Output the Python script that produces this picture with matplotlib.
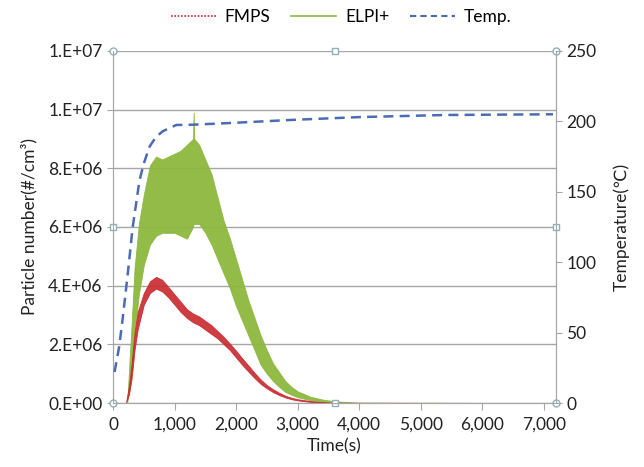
import numpy as np
import matplotlib
matplotlib.use("Agg")
import matplotlib.pyplot as plt
from matplotlib.ticker import FuncFormatter, MultipleLocator
from matplotlib.lines import Line2D

plt.rcParams['font.family'] = ['Lato', 'DejaVu Sans']

# ELPI+ noisy band (time s, lower/upper envelope in 1e6 #/cm3)
elpi_t = [230, 300, 350, 420, 500, 600, 700, 800, 900, 1000, 1100, 1200, 1300, 1310, 1320,
          1400, 1500, 1600, 1700, 1800, 1900, 2000, 2100, 2200, 2300, 2400, 2500, 2600,
          2700, 2800, 2900, 3000, 3200, 3400, 3600, 3800, 4000, 7200]
elpi_lo = [0, 1.0, 2.4, 3.7, 4.7, 5.4, 5.7, 5.8, 5.8, 5.8, 5.7, 5.6, 6.0, 6.1, 6.1,
           6.1, 5.8, 5.4, 4.9, 4.4, 3.9, 3.3, 2.8, 2.3, 1.8, 1.3, 1.0, 0.75,
           0.55, 0.38, 0.28, 0.2, 0.1, 0.05, 0.02, 0.01, 0, 0]
elpi_hi = [0, 2.6, 4.6, 6.1, 7.1, 8.1, 8.4, 8.3, 8.4, 8.5, 8.6, 8.8, 9.0, 9.9, 9.0,
           8.8, 8.3, 7.8, 7.0, 6.2, 5.6, 4.9, 4.2, 3.5, 2.9, 2.3, 1.8, 1.35,
           1.05, 0.75, 0.55, 0.4, 0.22, 0.12, 0.06, 0.03, 0.01, 0]

# FMPS noisy band
fmps_t = [210, 260, 300, 350, 400, 500, 600, 700, 800, 900, 1000, 1100, 1200, 1300, 1400,
          1500, 1600, 1700, 1800, 1900, 2000, 2100, 2200, 2300, 2400, 2500, 2600, 2700,
          2800, 2900, 3000, 3200, 3400, 3600, 7200]
fmps_lo = [0, 0.3, 0.8, 1.8, 2.5, 3.35, 3.75, 3.9, 3.8, 3.6, 3.35, 3.1, 2.9, 2.75, 2.65,
           2.5, 2.35, 2.2, 2.0, 1.8, 1.55, 1.3, 1.07, 0.85, 0.65, 0.5, 0.37, 0.27,
           0.19, 0.13, 0.09, 0.04, 0.01, 0, 0]
fmps_hi = [0, 0.6, 1.3, 2.4, 3.1, 3.75, 4.15, 4.3, 4.2, 3.95, 3.7, 3.45, 3.2, 3.05, 2.95,
           2.8, 2.65, 2.45, 2.25, 2.02, 1.78, 1.52, 1.28, 1.03, 0.8, 0.61, 0.47, 0.35,
           0.25, 0.18, 0.13, 0.07, 0.03, 0.01, 0]

# temperature (°C)
temp_t = [25, 100, 160, 240, 320, 430, 500, 593, 700, 810, 1027, 1300, 2000, 2900, 4000, 5400, 7150]
temp_v = [22, 40, 61, 92, 125, 158, 170, 182, 189, 193, 197.4, 197.6, 199, 201, 203, 204.5, 205]

x_ticks = [0, 1000, 2000, 3000, 4000, 5000, 6000, 7000]

GREEN = "#8cb83e"
RED = "#c8282d"
BLUE = "#4a6cb3"
GRAY = "#a6a6a6"

fig = plt.figure(figsize=(6.44, 4.67), dpi=100)
ax = fig.add_axes([0.1755, 0.137, 0.688, 0.754])
ax2 = ax.twinx()

e_t = np.array(elpi_t)
ax.fill_between(e_t, np.array(elpi_lo) * 1e6, np.array(elpi_hi) * 1e6,
                color=GREEN, lw=0.6, alpha=0.95, zorder=2)
f_t = np.array(fmps_t)
ax.fill_between(f_t, np.array(fmps_lo) * 1e6, np.array(fmps_hi) * 1e6,
                color=RED, lw=0.6, alpha=0.9, zorder=3)
ax2.plot(temp_t, temp_v, color=BLUE, lw=1.8, dashes=(4, 2.5), zorder=4)

ax.set_xlim(0, 7200)
ax.set_ylim(0, 1.2e7)
ax2.set_ylim(0, 250)
ax.set_xticks(x_ticks)
ax.yaxis.set_major_locator(MultipleLocator(2e6))
ax2.yaxis.set_major_locator(MultipleLocator(50))
ax.xaxis.set_major_formatter(FuncFormatter(lambda v, p: f"{v:,.0f}"))
ax.yaxis.set_major_formatter(FuncFormatter(lambda v, p: format(v, "#.0E")))
ax.grid(axis="y", color=GRAY, lw=1)
ax.set_axisbelow(True)

for a in (ax, ax2):
    a.spines["top"].set_visible(False)
    for s in ("left", "right", "bottom"):
        a.spines[s].set_color(GRAY)
    a.tick_params(colors=GRAY, labelcolor="#222222", labelsize=12.5, length=4)
ax.tick_params(axis="x", length=5, pad=5)

# frame markers
mk_x = [0, 7200, 0, 7200]
mk_y = [0, 0, 1.2e7, 1.2e7]
sq_x = [3600, 3600, 0, 7200]
sq_y = [0, 1.2e7, 6e6, 6e6]
ax.plot(mk_x, mk_y, "o", ms=5, mfc="white", mec="#8fb0bf", mew=1, clip_on=False, zorder=6)
ax.plot(sq_x, sq_y, "s", ms=4.5, mfc="white", mec="#8fb0bf", mew=1, clip_on=False, zorder=6)

ax.set_xlabel("Time(s)", fontsize=12.5, color="#222222", labelpad=4)
ax.set_ylabel("Particle number(#/cm³)", fontsize=12.5, color="#222222", labelpad=8)
ax2.set_ylabel("Temperature(℃)", fontsize=12.5, color="#222222", labelpad=12)

handles = [Line2D([], [], color=RED, lw=1.2, ls=(0, (1, 1))),
           Line2D([], [], color=GREEN, lw=1.2),
           Line2D([], [], color=BLUE, lw=1.5, dashes=(3, 2))]
fig.legend(handles, ["FMPS", "ELPI+", "Temp."], loc="center", bbox_to_anchor=(0.53, 0.963),
           ncol=3, frameon=False, fontsize=12.5, handlelength=2.6, columnspacing=1.2,
           handletextpad=0.5)

fig.savefig("out.png", dpi=100)
